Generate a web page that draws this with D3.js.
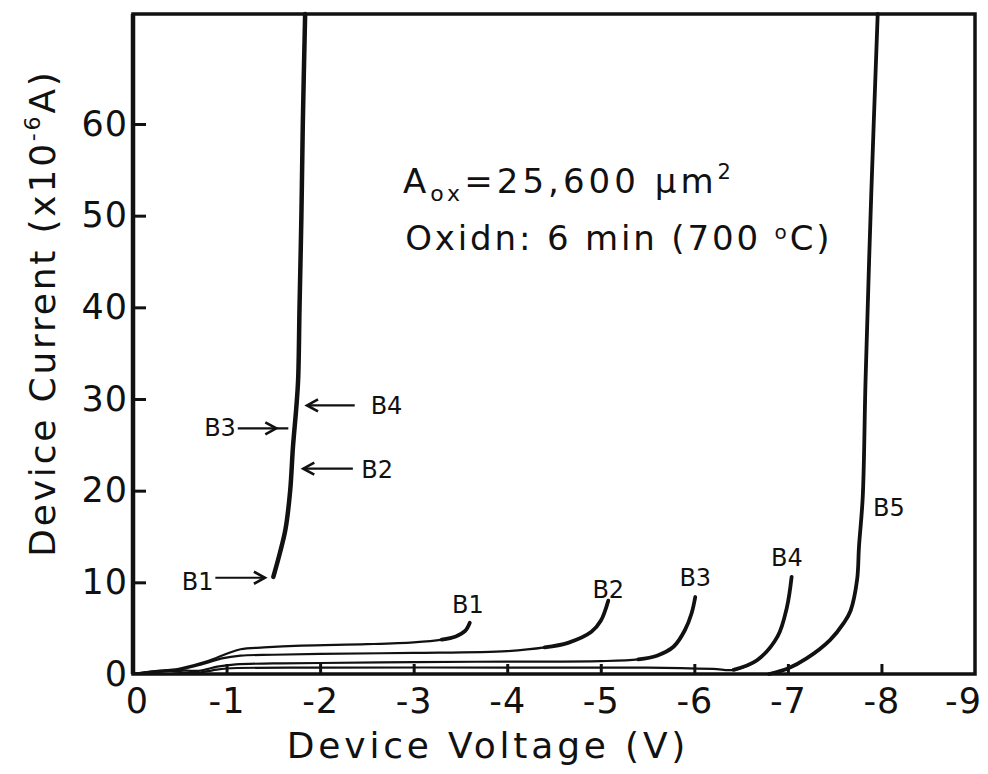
<!DOCTYPE html>
<html>
<head>
<meta charset="utf-8">
<script src="https://cdn.jsdelivr.net/npm/d3@7"></script>
<style>
  html, body { margin: 0; padding: 0; background: #fff; }
  svg { display: block; }
  text { font-family: "DejaVu Sans", Lato, sans-serif; fill: #111; }
</style>
</head>
<body>
<svg id="chart" width="988" height="774"></svg>
<script>
// Tick values for the two axes
const voltageTicks = [0, -1, -2, -3, -4, -5, -6, -7, -8, -9];
const currentTicks = [0, 10, 20, 30, 40, 50, 60];

// I–V traces: [voltage (V), current (µA)]
const B1 = [[0,0],[-0.5,0.6],[-0.8,1.4],[-1.0,2.2],[-1.15,2.7],[-1.4,2.9],[-1.8,3.1],[-2.5,3.25],[-3.0,3.45],[-3.3,3.75],[-3.45,4.1],[-3.55,4.7],[-3.6,5.6]];
const B2 = [[0,0],[-0.5,0.5],[-0.75,1.1],[-0.95,1.7],[-1.15,2.0],[-1.5,2.1],[-2,2.2],[-3,2.3],[-4,2.5],[-4.4,2.9],[-4.65,3.4],[-4.9,4.6],[-5.0,5.8],[-5.08,8.0]];
const B3 = [[0,0],[-0.4,0.45],[-0.7,0.35],[-0.9,0.8],[-1.1,1.05],[-1.5,1.15],[-2,1.2],[-3,1.3],[-4,1.35],[-5,1.4],[-5.4,1.6],[-5.6,2.0],[-5.78,3.0],[-5.9,4.8],[-5.97,6.6],[-6.01,8.4]];
const B4 = [[0,0],[-0.35,0.35],[-0.65,0.1],[-0.85,0.4],[-1.0,0.6],[-2,0.7],[-4,0.7],[-5.5,0.7],[-6.2,0.55],[-6.42,0.45],[-6.67,1.5],[-6.89,4.1],[-6.99,7.3],[-7.04,10.6]];
const B5 = [[-6.8,0],[-7.0,0.6],[-7.2,1.7],[-7.45,3.7],[-7.6,5.6],[-7.67,6.9],[-7.74,10.3],[-7.76,13.9],[-7.8,19.3],[-7.83,32],[-7.89,52],[-7.96,72]];
// Common steep branch reached by B1–B4
const breakdown = [[-1.50,10.6],[-1.57,13.2],[-1.63,15.8],[-1.68,20.0],[-1.71,24.8],[-1.745,29],[-1.765,32.1],[-1.78,40],[-1.80,50],[-1.815,60],[-1.84,72]];

const seriesNames = ["B1", "B2", "B3", "B4", "B5"];
const seriesData = [B1, B2, B3, B4, B5];
// Voltage beyond which each trace turns up sharply (drawn heavier)
const kneeVoltages = [-3.25, -4.35, -5.35, -6.4, -6.8];
// End-of-trace label anchors [voltage, current]
const labelAnchors = [[-3.58, 7.6], [-5.08, 9.2], [-6.01, 10.5], [-6.99, 12.7], [-8.08, 18.2]];

// Arrow callouts on the breakdown branch: label, label anchor, arrow from/to voltage, current level
const calloutNames = ["B1", "B3", "B4", "B2"];
const calloutText = [[-0.69, 10.1], [-0.93, 26.9], [-2.71, 29.3], [-2.61, 22.3]];
const calloutArrow = [[-0.88, -1.41, 10.5], [-1.12, -1.66, 26.8], [-2.37, -1.86, 29.3], [-2.35, -1.82, 22.4]];

const svg = d3.select("#chart");
const x = d3.scaleLinear().domain([0, -9]).range([133, 975]);
const y = d3.scaleLinear().domain([0, 72]).range([674, 14]);

// Plot frame
svg.append("rect")
  .attr("x", x(0)).attr("y", y(72))
  .attr("width", x(-9) - x(0)).attr("height", y(0) - y(72))
  .attr("fill", "none").attr("stroke", "#111").attr("stroke-width", 3.5);
svg.append("line")
  .attr("x1", x(0)).attr("x2", x(0)).attr("y1", y(72)).attr("y2", y(0))
  .attr("stroke", "#111").attr("stroke-width", 4.5);

// Axes with inward ticks
const xAxis = svg.append("g")
  .attr("transform", `translate(0,${y(0)})`)
  .call(d3.axisBottom(x).tickValues(voltageTicks).tickSize(-10).tickPadding(14)
    .tickFormat(d => d === 0 ? "0" : "-" + Math.abs(d)));
xAxis.select(".domain").remove();
xAxis.selectAll("line").attr("stroke", "#111").attr("stroke-width", 3)
  .filter(d => d === 0 || d === -9).remove();
xAxis.selectAll("text").attr("font-size", 35).attr("fill", "#111")
  .attr("letter-spacing", 1);
xAxis.selectAll("text").filter(d => d === -9).attr("dx", -12);
xAxis.selectAll("text").filter(d => d === 0).attr("dx", 4);

const yAxis = svg.append("g")
  .attr("transform", `translate(${x(0)},0)`)
  .call(d3.axisLeft(y).tickValues(currentTicks).tickSize(-13).tickPadding(6));
yAxis.select(".domain").remove();
yAxis.selectAll("line").attr("stroke", "#111").attr("stroke-width", 3)
  .filter(d => d === 0).remove();
yAxis.selectAll("text").attr("font-size", 35).attr("fill", "#111")
  .attr("letter-spacing", 1).attr("dx", 1);

// Curves
const line = d3.line().x(d => x(d[0])).y(d => y(d[1])).curve(d3.curveCatmullRom.alpha(0.5));
const curves = svg.append("g").attr("fill", "none").attr("stroke", "#111")
  .attr("stroke-linecap", "round").attr("stroke-linejoin", "round");

seriesData.forEach((pts, k) => {
  curves.append("path").attr("d", line(pts)).attr("stroke-width", 2.2);
  const i0 = Math.max(0, pts.findIndex(p => p[0] <= kneeVoltages[k]));
  curves.append("path").attr("d", line(pts.slice(i0))).attr("stroke-width", 3.8);
});
curves.append("path").attr("d", line(breakdown)).attr("stroke-width", 4.5);

// End labels
svg.append("g").selectAll("text").data(seriesNames).join("text")
  .attr("x", (d, i) => x(labelAnchors[i][0]))
  .attr("y", (d, i) => y(labelAnchors[i][1]))
  .attr("dy", "0.36em").attr("text-anchor", "middle")
  .attr("font-size", 24)
  .text(d => d);

// Callouts
const callouts = svg.append("g");
calloutNames.forEach((name, k) => {
  const [v0, v1, cur] = calloutArrow[k];
  const x0 = x(v0), x1 = x(v1), yy = y(cur);
  const dir = Math.sign(x1 - x0);
  callouts.append("text")
    .attr("x", x(calloutText[k][0])).attr("y", y(calloutText[k][1]))
    .attr("dy", "0.36em").attr("text-anchor", "middle")
    .attr("font-size", 24).text(name);
  callouts.append("line").attr("x1", x0).attr("x2", x1).attr("y1", yy).attr("y2", yy)
    .attr("stroke", "#111").attr("stroke-width", 2.2);
  // chevron head; B3 has its head part-way along the shaft
  const tip = name === "B3" ? x1 - dir * 12 : x1;
  callouts.append("path")
    .attr("d", `M${tip - dir * 11},${yy - 6} L${tip},${yy} L${tip - dir * 11},${yy + 6}`)
    .attr("fill", "none").attr("stroke", "#111").attr("stroke-width", 2.6)
    .attr("stroke-linejoin", "miter");
});

// Sample description
const note = svg.append("g").attr("font-size", 34);
const l1 = note.append("text").attr("x", x(-2.886)).attr("y", y(52.5));
l1.append("tspan").text("A");
l1.append("tspan").attr("font-size", 22).attr("dy", 8).text("ox");
l1.append("tspan").attr("dy", -8).text("=25,600 µm");
l1.append("tspan").attr("font-size", 21).attr("dy", -14).text("2");
const l2 = note.append("text").attr("x", x(-2.91)).attr("y", y(46.25));
l2.append("tspan").text("Oxidn: 6 min  (700 ");
l2.append("tspan").attr("font-size", 20).attr("dy", -11).text("o");
l2.append("tspan").attr("dy", 11).text("C)");

// Axis titles
const xt = svg.append("text")
  .attr("x", 488).attr("y", 758).attr("text-anchor", "middle")
  .attr("font-size", 36).text("Device  Voltage  (V)");
const yt = svg.append("text")
  .attr("transform", "translate(55,313) rotate(-90)")
  .attr("text-anchor", "middle").attr("font-size", 36);
yt.append("tspan").text("Device  Current  (x10");
yt.append("tspan").attr("font-size", 22).attr("dy", -15).text("-6");
yt.append("tspan").attr("dy", 15).text("A)");

// stretch letter spacing so text lines span their intended widths
function fitWidth(sel, target) {
  const n = sel.text().length;
  const w = sel.node().getComputedTextLength();
  sel.attr("letter-spacing", Math.max(0, (target - w) / n));
}
fitWidth(xt, 410);
fitWidth(yt, 493);
fitWidth(l1, 332);
fitWidth(l2, 430);
</script>
</body>
</html>
